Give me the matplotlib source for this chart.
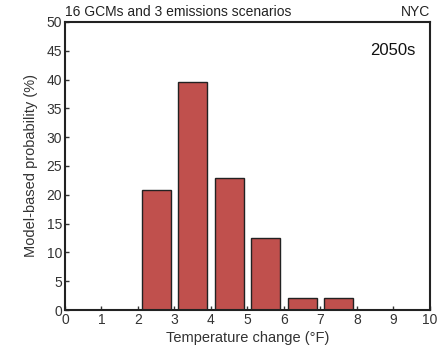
import matplotlib
matplotlib.use("Agg")
import matplotlib.pyplot as plt
import numpy as np

# bin centres (deg F) and share of the 48 model runs in each bin
bin_centres = [2.5, 3.5, 4.5, 5.5, 6.5, 7.5]
probability = [20.8, 39.6, 22.9, 12.5, 2.1, 2.1]
x_ticks = list(range(0, 11))
y_ticks = list(range(0, 51, 5))

plt.rcParams['font.family'] = ['Liberation Sans', 'DejaVu Sans']

fig = plt.figure(figsize=(4.45, 3.48), dpi=100)
ax = fig.add_axes([0.146, 0.109, 0.82, 0.828])

ax.bar(bin_centres, probability, width=0.8, color='#C0504D',
       edgecolor='#222222', linewidth=1.0)

ax.set_xlim(0, 10)
ax.set_ylim(0, 50)
ax.set_xticks(x_ticks)
ax.set_yticks(y_ticks)
ax.tick_params(direction='in', length=3, width=1, labelsize=10,
               colors='#333333', pad=2)
for s in ax.spines.values():
    s.set_linewidth(1.5)
    s.set_color('#222222')

ax.set_xlabel('Temperature change (°F)', fontsize=10.5, color='#333333', labelpad=3)
ax.set_ylabel('Model-based probability (%)', fontsize=10.5, color='#333333', labelpad=6)

ax.text(0.0, 1.01, '16 GCMs and 3 emissions scenarios', transform=ax.transAxes,
        ha='left', va='bottom', fontsize=10, color='#222222')
ax.text(1.0, 1.01, 'NYC', transform=ax.transAxes,
        ha='right', va='bottom', fontsize=10, color='#222222')
ax.text(0.96, 0.9, '2050s', transform=ax.transAxes,
        ha='right', va='center', fontsize=12, color='#111111')

fig.savefig('out.png', dpi=100)
